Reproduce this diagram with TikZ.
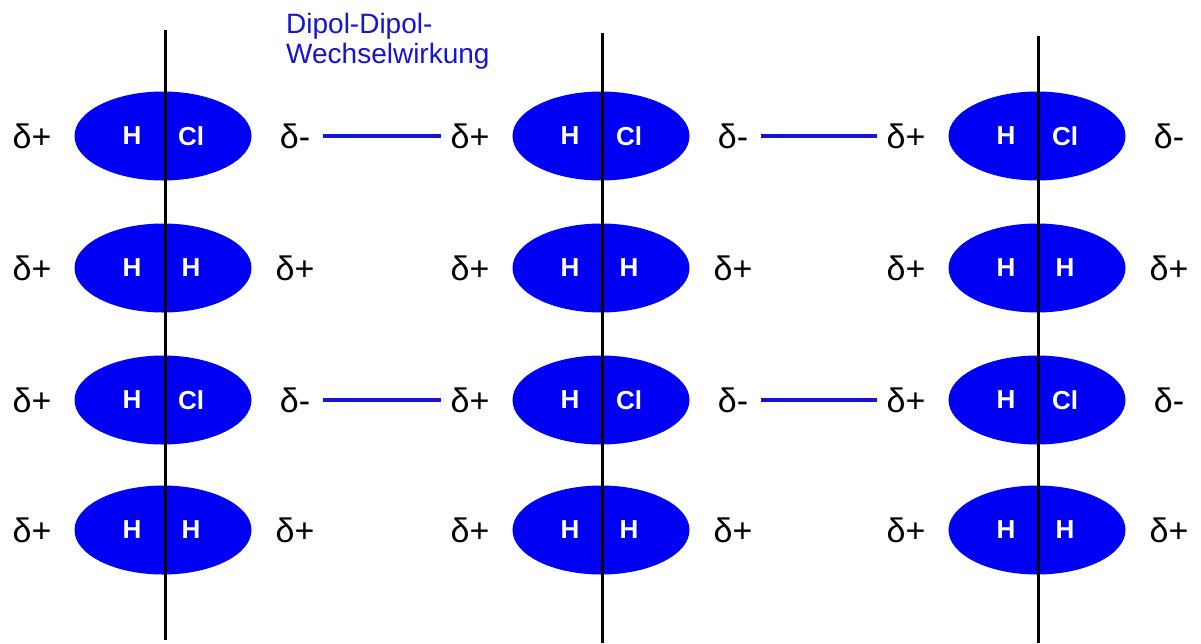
\documentclass[tikz,border=0pt]{standalone}
\usepackage{fontspec}
\setmainfont{Liberation Sans}
\usetikzlibrary{shapes.geometric}
\definecolor{molblue}{RGB}{0,0,245}
\definecolor{linkblue}{RGB}{20,20,210}
\begin{document}
\begin{tikzpicture}[x=1pt,y=-1pt,
  mol/.style={ellipse,fill=molblue,minimum width=177pt,minimum height=89pt,inner sep=0pt},
  atom/.style={text=white,font=\fontsize{26}{30}\selectfont\bfseries,inner sep=0pt},
  charge/.style={font=\fontsize{34}{38}\selectfont,inner sep=0pt},
  axis/.style={line width=3pt,black},
  link/.style={line width=3.5pt,linkblue,shorten <=13pt,shorten >=9pt},
  title/.style={font=\fontsize{28}{30}\selectfont,text=linkblue,align=left,inner sep=0pt,anchor=north west}]
\useasboundingbox (0,0) rectangle (1201,643);
% columns
\foreach \c/\x in {1/163,2/601,3/1037}{
  \foreach \r/\y/\a/\b/\s in {1/136/H/Cl/-,2/268/H/H/+,3/400/H/Cl/-,4/530/H/H/+}{
    \node[mol] (m\c\r) at (\x,\y) {};
    \node[atom] (a\c\r) at (\x-31,\y) {\a};
    \node[atom] (b\c\r) at (\x+28,\y) {\b};
    \node[charge] (l\c\r) at (\x-131,\y) {δ+};
    \node[charge] (r\c\r) at (\x+132,\y) {δ\s};
  }
}
% vertical axes
\coordinate (t1) at (165,30);  \coordinate (u1) at (165,640);
\coordinate (t2) at (602,33);  \coordinate (u2) at (602,643);
\coordinate (t3) at (1038,36); \coordinate (u3) at (1038,643);
\draw[axis] (t1) -- (u1);
\draw[axis] (t2) -- (u2);
\draw[axis] (t3) -- (u3);
% dipole-dipole links
\draw[link] (r11.east) -- (l21.west);
\draw[link] (r21.east) -- (l31.west);
\draw[link] (r13.east) -- (l23.west);
\draw[link] (r23.east) -- (l33.west);
\node[title] (ttl) at (286,13) {Dipol-Dipol-\\Wechselwirkung};
\end{tikzpicture}
\end{document}
